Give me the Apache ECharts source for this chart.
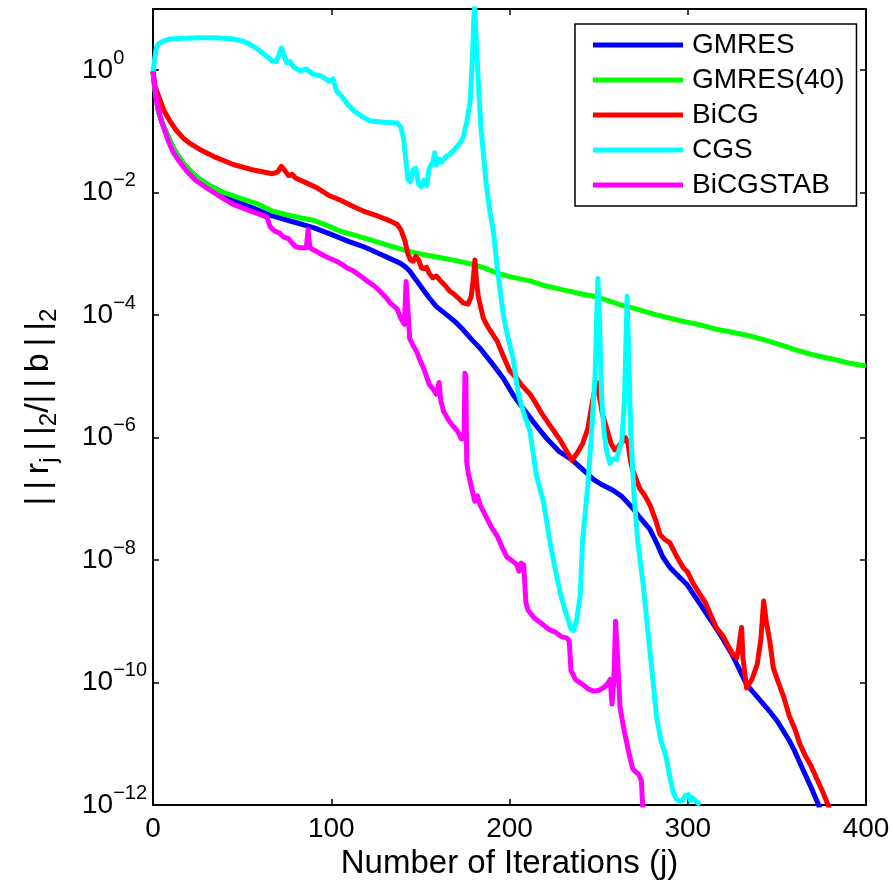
<!DOCTYPE html>
<html>
<head>
<meta charset="utf-8">
<script src="https://cdn.jsdelivr.net/npm/echarts@6/dist/echarts.min.js"></script>
<style>
html, body { margin: 0; padding: 0; background: #fff; }
#chart { width: 893px; height: 886px; }
</style>
</head>
<body>
<div id="chart"></div>
<script>
// residual history: [iteration, log10(||r_j||/||b||)]
const seriesNames = ['GMRES', 'GMRES(40)', 'BiCG', 'CGS', 'BiCGSTAB'];
const seriesColors = ['#0000ff', '#00ff00', '#ff0000', '#00ffff', '#ff00ff'];
const xTicks = [0, 100, 200, 300, 400];
const yTickExps = [0, -2, -4, -6, -8, -10, -12];

const gmres = [[0,-0.02],[1,-0.3],[3,-0.67],[5,-0.85],[8,-1.05],[11,-1.25],[13.5,-1.37],[17,-1.52],[21,-1.65],[26,-1.78],[32,-1.89],[38,-1.98],
  [43,-2.08],[50,-2.18],[58,-2.27],[67,-2.38],[78,-2.47],[90,-2.57],[100,-2.68],[110,-2.8],[118,-2.88],[128,-3.01],[138.6,-3.15],[142,-3.22],
  [144,-3.28],[147,-3.4],[150,-3.52],[155,-3.72],[159,-3.86],[165,-4.0],[170,-4.12],[174,-4.24],[179.5,-4.42],[183.5,-4.54],[190,-4.78],
  [196.5,-5.03],[202,-5.3],[207.6,-5.52],[213,-5.73],[221,-6.02],[228,-6.23],[234.9,-6.36],[241,-6.52],[247,-6.68],[252,-6.77],[258,-6.86],
  [263,-6.96],[269,-7.15],[273,-7.3],[278.8,-7.5],[283,-7.75],[286,-7.95],[290,-8.12],[295,-8.27],[299.6,-8.4],[306,-8.68],[314,-9.03],
  [320,-9.3],[325.4,-9.57],[330,-9.85],[333,-10.03],[338,-10.2],[344.5,-10.42],[350,-10.62],[353.4,-10.78],[357,-10.95],[360,-11.12],
  [364.6,-11.42],[369,-11.7],[373,-11.97],[374,-12.05]];

const gmres40 = [[0,-0.02],[1,-0.3],[3,-0.67],[5,-0.85],[8,-1.05],[11,-1.25],[13.5,-1.37],[17,-1.52],[21,-1.65],[26,-1.78],[32,-1.89],[38,-1.98],
  [43,-2.03],[50,-2.1],[54.4,-2.14],[60,-2.2],[67,-2.3],[75,-2.36],[82.5,-2.41],[90,-2.45],[99,-2.55],[105,-2.63],[114,-2.7],[122,-2.77],
  [133,-2.87],[142.5,-2.95],[150,-3.0],[163,-3.07],[170,-3.11],[178,-3.16],[185,-3.22],[193,-3.31],[200,-3.37],[211.5,-3.44],[220,-3.52],
  [232,-3.6],[240,-3.65],[247,-3.69],[255,-3.76],[262,-3.83],[269,-3.88],[283,-4.0],[297,-4.1],[306,-4.15],[316,-4.23],[325,-4.28],
  [335,-4.34],[345,-4.42],[354,-4.5],[363,-4.59],[372,-4.66],[381.6,-4.72],[390,-4.78],[400,-4.83]];

const bicg = [[0,-0.02],[1,-0.25],[3.5,-0.45],[6,-0.65],[9.5,-0.83],[13,-0.98],[17,-1.11],[21,-1.2],[26,-1.29],[35,-1.42],[45,-1.54],[55,-1.62],
  [67,-1.69],[70,-1.66],[72,-1.57],[74,-1.64],[76,-1.72],[78,-1.7],[80,-1.76],[86,-1.84],[92,-1.92],[99,-2.05],[105,-2.12],[112,-2.22],
  [118,-2.3],[126,-2.38],[133,-2.46],[137,-2.52],[139,-2.6],[141.4,-2.79],[143,-3.0],[144.5,-3.1],[146,-3.12],[147.5,-3.04],[149,-3.1],
  [150.7,-3.23],[152,-3.24],[153.5,-3.22],[155,-3.32],[157,-3.39],[159,-3.36],[161,-3.43],[164,-3.52],[166.6,-3.61],[169,-3.66],[172,-3.74],
  [174,-3.8],[176.7,-3.82],[178.5,-3.7],[179.5,-3.45],[180.6,-3.1],[181.5,-3.45],[182.5,-3.7],[185.3,-4.05],[188,-4.2],[193,-4.42],[197,-4.7],
  [200,-4.9],[204,-5.03],[207,-5.15],[211.5,-5.29],[215,-5.45],[218,-5.6],[222.7,-5.8],[228,-6.02],[232,-6.22],[235,-6.37],[238,-6.25],
  [241,-6.1],[244,-5.85],[246,-5.5],[248,-5.2],[249,-5.1],[250,-5.25],[252,-5.6],[254.5,-5.85],[257,-6.1],[259,-6.2],[261,-6.15],
  [263.8,-6.05],[265,-6.0],[266.5,-6.1],[268,-6.4],[269,-6.52],[273,-6.83],[276,-6.95],[278.8,-7.1],[282,-7.35],[284.4,-7.58],[287,-7.66],
  [290,-7.72],[294,-7.95],[297.4,-8.12],[300,-8.2],[303,-8.38],[306.9,-8.56],[310,-8.7],[313,-8.9],[316,-9.1],[320,-9.25],[323,-9.42],
  [325.4,-9.54],[327.4,-9.6],[328.5,-9.45],[330.2,-9.1],[331,-9.6],[333,-10.09],[336,-9.95],[339,-9.7],[341,-9.3],[342.6,-8.67],[344,-9.0],
  [346,-9.32],[348,-9.76],[350,-9.93],[354,-10.25],[357,-10.55],[360,-10.75],[363,-11.01],[366,-11.2],[369,-11.35],[372.4,-11.57],
  [375.5,-11.77],[378.7,-12.0],[380,-12.1]];

const cgs = [[0,-0.02],[1,0.2],[2,0.38],[3,0.43],[6,0.48],[9.5,0.51],[15,0.52],[26,0.53],[35,0.53],[45,0.51],[50,0.48],[54,0.43],[58,0.36],
  [62,0.27],[67,0.15],[69,0.14],[71,0.28],[72,0.36],[73.5,0.25],[75,0.12],[77,0.14],[79,0.05],[82.5,-0.01],[86,0.02],[90,-0.07],[94,-0.09],
  [99,-0.18],[101,-0.14],[103,-0.34],[106,-0.43],[109,-0.55],[113,-0.67],[118,-0.77],[122,-0.83],[130,-0.85],[137,-0.86],[139,-0.93],
  [140.5,-1.1],[142,-1.5],[143,-1.78],[144.5,-1.82],[146,-1.62],[147.5,-1.6],[149,-1.85],[150.5,-1.9],[152,-1.8],[153.5,-1.88],[155,-1.6],
  [157,-1.5],[158,-1.35],[159,-1.55],[160.5,-1.45],[162,-1.5],[164,-1.42],[166.6,-1.37],[169,-1.3],[172,-1.2],[174,-1.1],[176,-0.85],
  [178,-0.5],[179.2,0.2],[180.3,1.1],[181.5,0.4],[182.5,-0.2],[184,-0.95],[187,-1.87],[189,-2.3],[191,-2.63],[193,-3.2],[196.5,-3.99],
  [199,-4.35],[202,-4.7],[205,-5.3],[208,-5.6],[211.5,-5.9],[215,-6.6],[219,-7.04],[222.7,-7.7],[226,-8.2],[229,-8.6],[232,-8.9],
  [234.5,-9.12],[236,-9.15],[237.5,-9.0],[239.6,-8.6],[241,-7.69],[244,-6.76],[246,-5.94],[248,-5.0],[249.6,-3.4],[250.6,-4.2],[251.7,-5.35],
  [253,-5.9],[254.5,-6.22],[256.4,-6.42],[258,-6.35],[260,-6.36],[261.5,-6.2],[263,-6.06],[264.5,-5.4],[266,-3.69],[267,-4.8],[268,-5.9],
  [270,-7.0],[272,-7.7],[275,-8.4],[278.8,-9.49],[282.6,-10.58],[285,-10.95],[288,-11.23],[290,-11.55],[291.7,-11.78],[293.5,-11.9],
  [295.5,-11.94],[297,-11.93],[298.5,-11.85],[300.3,-11.83],[301.5,-11.93],[302.5,-11.88],[303.5,-11.86],[305,-11.95],[306.9,-12.0]];

const bicgstab = [[0,-0.02],[2,-0.5],[4,-0.75],[6,-0.94],[8.5,-1.15],[11,-1.32],[15,-1.5],[19,-1.65],[24,-1.8],[30,-1.92],[37,-2.05],[45,-2.19],
  [55,-2.3],[64,-2.4],[65.6,-2.55],[68,-2.62],[71,-2.66],[73,-2.72],[76,-2.75],[78,-2.82],[80,-2.88],[82.5,-2.9],[86,-2.9],[87,-2.6],[88,-2.9],
  [89,-2.93],[93,-2.98],[96,-3.03],[99,-3.07],[103,-3.12],[106,-3.17],[109,-3.23],[112,-3.27],[115,-3.33],[120,-3.44],[124,-3.52],[127,-3.6],
  [131,-3.72],[133,-3.8],[135,-3.85],[137,-3.9],[139,-4.05],[141,-4.15],[142,-3.45],[143,-3.42],[144,-4.38],[146,-4.5],[148,-4.6],[150,-4.75],
  [152,-4.88],[155,-5.13],[157,-5.2],[159,-5.29],[160.5,-5.1],[161.5,-5.4],[163,-5.57],[166,-5.72],[168,-5.8],[171,-5.9],[173,-6.02],
  [174.5,-6.02],[175,-4.95],[175.5,-5.0],[176,-6.4],[177,-6.6],[179,-6.85],[180.5,-7.04],[182,-6.95],[183.5,-7.1],[187,-7.3],[190,-7.47],
  [193,-7.6],[196,-7.8],[198.5,-7.95],[201,-8.0],[204,-8.07],[205.3,-8.18],[206.5,-8.05],[208,-8.08],[209.2,-8.7],[210.5,-8.82],[214,-8.95],
  [218.6,-9.05],[222,-9.13],[226,-9.18],[229,-9.25],[232,-9.27],[233.5,-9.32],[234.5,-9.8],[237,-9.95],[241,-10.03],[244,-10.1],[247,-10.14],
  [250,-10.13],[253,-10.08],[255,-10.02],[256.5,-9.95],[257.5,-10.35],[258.5,-10.0],[259.5,-9.0],[260.5,-9.5],[262,-10.4],[263.5,-10.65],
  [264.8,-10.85],[267,-11.15],[269,-11.4],[270.5,-11.45],[272.5,-11.5],[274,-11.6],[274.7,-12.0],[275,-12.1]];

const seriesData = [gmres, gmres40, bicg, cgs, bicgstab];

const FONT = '"Liberation Sans", Arial, Helvetica, sans-serif';
const chart = echarts.init(document.getElementById('chart'), null, { renderer: 'canvas' });

function expLabel(v) {
  if (yTickExps.indexOf(v) < 0) return '';
  const e = v === 0 ? '0' : '\u2212' + (-v);
  return '{b|10}{s|' + e + '}';
}

const axisLineStyle = { color: '#000', width: 2 };
const tickStyle = { show: true, inside: true, length: 6, lineStyle: { color: '#000', width: 1.5 } };
const th = '\u2009';

chart.setOption({
  animation: false,
  backgroundColor: '#fff',
  textStyle: { fontFamily: FONT, color: '#000' },
  grid: { left: 153, right: 27, top: 9, bottom: 81, outerBoundsMode: 'none' },
  legend: {
    data: seriesNames,
    orient: 'vertical',
    left: 575,
    top: 24,
    icon: 'rect',
    itemWidth: 90,
    itemHeight: 5,
    itemGap: 5,
    padding: [6, 12, 6, 18],
    backgroundColor: '#fff',
    borderColor: '#000',
    borderWidth: 1.5,
    borderRadius: 0,
    textStyle: { fontSize: 28, color: '#000', lineHeight: 30, fontFamily: FONT, padding: [0, 0, 0, 4] }
  },
  xAxis: [{
    type: 'value',
    min: 0, max: 400, interval: 100,
    name: 'Number of Iterations (j)',
    nameLocation: 'middle',
    nameGap: 38,
    nameTextStyle: { fontSize: 33, color: '#000', fontFamily: FONT },
    axisLine: { show: true, onZero: false, lineStyle: axisLineStyle },
    axisTick: tickStyle,
    axisLabel: { fontSize: 28, color: '#000', margin: 10, fontFamily: FONT,
      formatter: v => (xTicks.indexOf(v) >= 0 ? String(v) : '') },
    splitLine: { show: false }
  }, {
    type: 'value',
    position: 'top',
    min: 0, max: 400, interval: 100,
    axisLine: { show: true, onZero: false, lineStyle: axisLineStyle },
    axisTick: tickStyle,
    axisLabel: { show: false },
    splitLine: { show: false }
  }],
  yAxis: [{
    type: 'value',
    min: -12, max: 1, interval: 2,
    name: '{t||' + th + '|' + th + 'r}{s|j}{t|' + th + '|' + th + '|}{s|2}{t|/|' + th + '|' + th + 'b' + th + '|' + th + '|}{s|2}',
    nameLocation: 'middle',
    nameGap: 92,
    nameTextStyle: {
      fontSize: 34, color: '#000', fontFamily: FONT,
      rich: {
        t: { fontSize: 34, lineHeight: 44, fontFamily: FONT },
        s: { fontSize: 24, lineHeight: 22, verticalAlign: 'bottom', fontFamily: FONT }
      }
    },
    axisLine: { show: true, onZero: false, lineStyle: axisLineStyle },
    axisTick: tickStyle,
    axisLabel: {
      align: 'left', margin: 71, color: '#000',
      formatter: expLabel,
      rich: {
        b: { fontSize: 28, lineHeight: 44, fontFamily: FONT, color: '#000' },
        s: { fontSize: 20, lineHeight: 20, verticalAlign: 'top', fontFamily: FONT, color: '#000' }
      }
    },
    splitLine: { show: false }
  }, {
    type: 'value',
    position: 'right',
    min: -12, max: 1, interval: 2,
    axisLine: { show: true, onZero: false, lineStyle: axisLineStyle },
    axisTick: tickStyle,
    axisLabel: { show: false },
    splitLine: { show: false }
  }],
  series: seriesNames.map((name, i) => ({
    name: name,
    type: 'line',
    data: seriesData[i],
    showSymbol: false,
    symbol: 'none',
    clip: true,
    color: seriesColors[i],
    lineStyle: { color: seriesColors[i], width: 5, join: 'round' },
    z: 2 + i
  }))
});
</script>
</body>
</html>
